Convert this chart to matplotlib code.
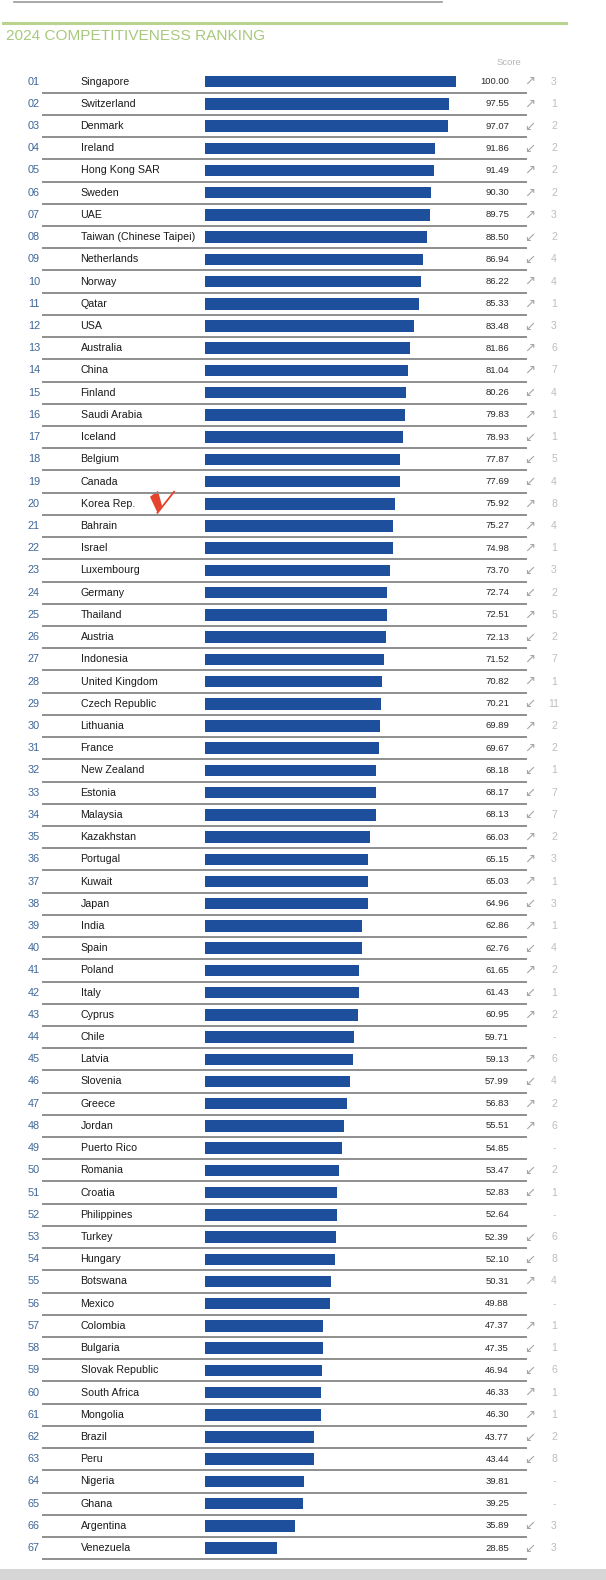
import numpy as np
import matplotlib.pyplot as plt
from matplotlib.patches import Polygon

plt.rcParams['font.family'] = ['Liberation Sans', 'DejaVu Sans']

# data
countries = [
    "Singapore", "Switzerland", "Denmark", "Ireland", "Hong Kong SAR", "Sweden",
    "UAE", "Taiwan (Chinese Taipei)", "Netherlands", "Norway", "Qatar", "USA",
    "Australia", "China", "Finland", "Saudi Arabia", "Iceland", "Belgium",
    "Canada", "Korea Rep.", "Bahrain", "Israel", "Luxembourg", "Germany",
    "Thailand", "Austria", "Indonesia", "United Kingdom", "Czech Republic",
    "Lithuania", "France", "New Zealand", "Estonia", "Malaysia", "Kazakhstan",
    "Portugal", "Kuwait", "Japan", "India", "Spain", "Poland", "Italy",
    "Cyprus", "Chile", "Latvia", "Slovenia", "Greece", "Jordan", "Puerto Rico",
    "Romania", "Croatia", "Philippines", "Turkey", "Hungary", "Botswana",
    "Mexico", "Colombia", "Bulgaria", "Slovak Republic", "South Africa",
    "Mongolia", "Brazil", "Peru", "Nigeria", "Ghana", "Argentina", "Venezuela",
]
scores = [
    100.00, 97.55, 97.07, 91.86, 91.49, 90.30, 89.75, 88.50, 86.94, 86.22,
    85.33, 83.48, 81.86, 81.04, 80.26, 79.83, 78.93, 77.87, 77.69, 75.92,
    75.27, 74.98, 73.70, 72.74, 72.51, 72.13, 71.52, 70.82, 70.21, 69.89,
    69.67, 68.18, 68.17, 68.13, 66.03, 65.15, 65.03, 64.96, 62.86, 62.76,
    61.65, 61.43, 60.95, 59.71, 59.13, 57.99, 56.83, 55.51, 54.85, 53.47,
    52.83, 52.64, 52.39, 52.10, 50.31, 49.88, 47.37, 47.35, 46.94, 46.33,
    46.30, 43.77, 43.44, 39.81, 39.25, 35.89, 28.85,
]
# +1 up, -1 down, 0 no previous rank
direction = [
    1, 1, -1, -1, 1, 1, 1, -1, -1, 1, 1, -1, 1, 1, -1, 1, -1, -1, -1, 1,
    1, 1, -1, -1, 1, -1, 1, 1, -1, 1, 1, -1, -1, -1, 1, 1, 1, -1, 1, -1,
    1, -1, 1, 0, 1, -1, 1, 1, 0, -1, -1, 0, -1, -1, 1, 0, 1, -1, -1, 1,
    1, -1, -1, 0, 0, -1, -1,
]
change = [
    "3", "1", "2", "2", "2", "2", "3", "2", "4", "4", "1", "3", "6", "7", "4",
    "1", "1", "5", "4", "8", "4", "1", "3", "2", "5", "2", "7", "1", "11", "2",
    "2", "1", "7", "7", "2", "3", "1", "3", "1", "4", "2", "1", "2", "-", "6",
    "4", "2", "6", "-", "2", "1", "-", "6", "8", "4", "-", "1", "1", "6", "1",
    "1", "2", "8", "-", "-", "3", "3",
]
title = "2024 COMPETITIVENESS RANKING"

W, H = 606, 1580
fig = plt.figure(figsize=(W / 100, H / 100), dpi=100)
ax = fig.add_axes([0, 0, 1, 1])
ax.set_xlim(0, W)
ax.set_ylim(H, 0)
ax.axis("off")

# layout (pixels)
row0 = 81.6
pitch = 22.22
bar_left = 204.6
px_per_pt = (455.5 - bar_left) / 100.0
rows = row0 + pitch * np.arange(len(countries))

# header decorations
ax.plot([14, 442], [2, 2], color="#9a9a9a", lw=1.2)
ax.plot([3, 566], [23, 23], color="#b8d48e", lw=2.2)
ax.text(6, 35.5, title, color="#a8c97c", fontsize=11.1, va="center", ha="left")
ax.text(521, 62.5, "Score", color="#b5b5b5", fontsize=6.8, va="center", ha="right")

# bars
ax.barh(rows, np.array(scores) * px_per_pt, left=bar_left, height=11.5,
        color="#1e4f9c", edgecolor="none")

for i, y in enumerate(rows):
    ax.text(28, y, f"{i + 1:02d}", color="#3f6697", fontsize=7.8, va="center", ha="left")
    ax.text(80.6, y, countries[i], color="#1a1a1a", fontsize=7.7, va="center", ha="left")
    ax.text(509, y, f"{scores[i]:.2f}", color="#2a2a2a", fontsize=6.8, va="center", ha="right")
    if direction[i] > 0:
        ax.text(530, y, "\u2197", color="#a5a5a5", fontsize=9.5, va="center", ha="center",
                family="DejaVu Sans")
    elif direction[i] < 0:
        ax.text(530, y, "\u2199", color="#a5a5a5", fontsize=9.5, va="center", ha="center",
                family="DejaVu Sans")
    ax.text(554, y, change[i], color="#bdbdbd", fontsize=7.5, va="center", ha="center")
    ax.plot([43.3, 526], [y + 11.1, y + 11.1], color="#8e8e8e", lw=1.4)

# red hand-drawn check next to Korea
ky = rows[countries.index("Korea Rep.")]
ax.add_patch(Polygon([[150, ky - 7], [158, ky - 13], [162, ky + 2], [157.5, ky + 9]],
                     closed=True, color="#e5432b", lw=0))
ax.plot([157.5, 174], [ky + 9, ky - 12], color="#e5432b", lw=1.3)

# bottom grey band
ax.axhspan(1569, 1580, color="#d6d6d6", lw=0)

fig.savefig("out.png", dpi=100)
